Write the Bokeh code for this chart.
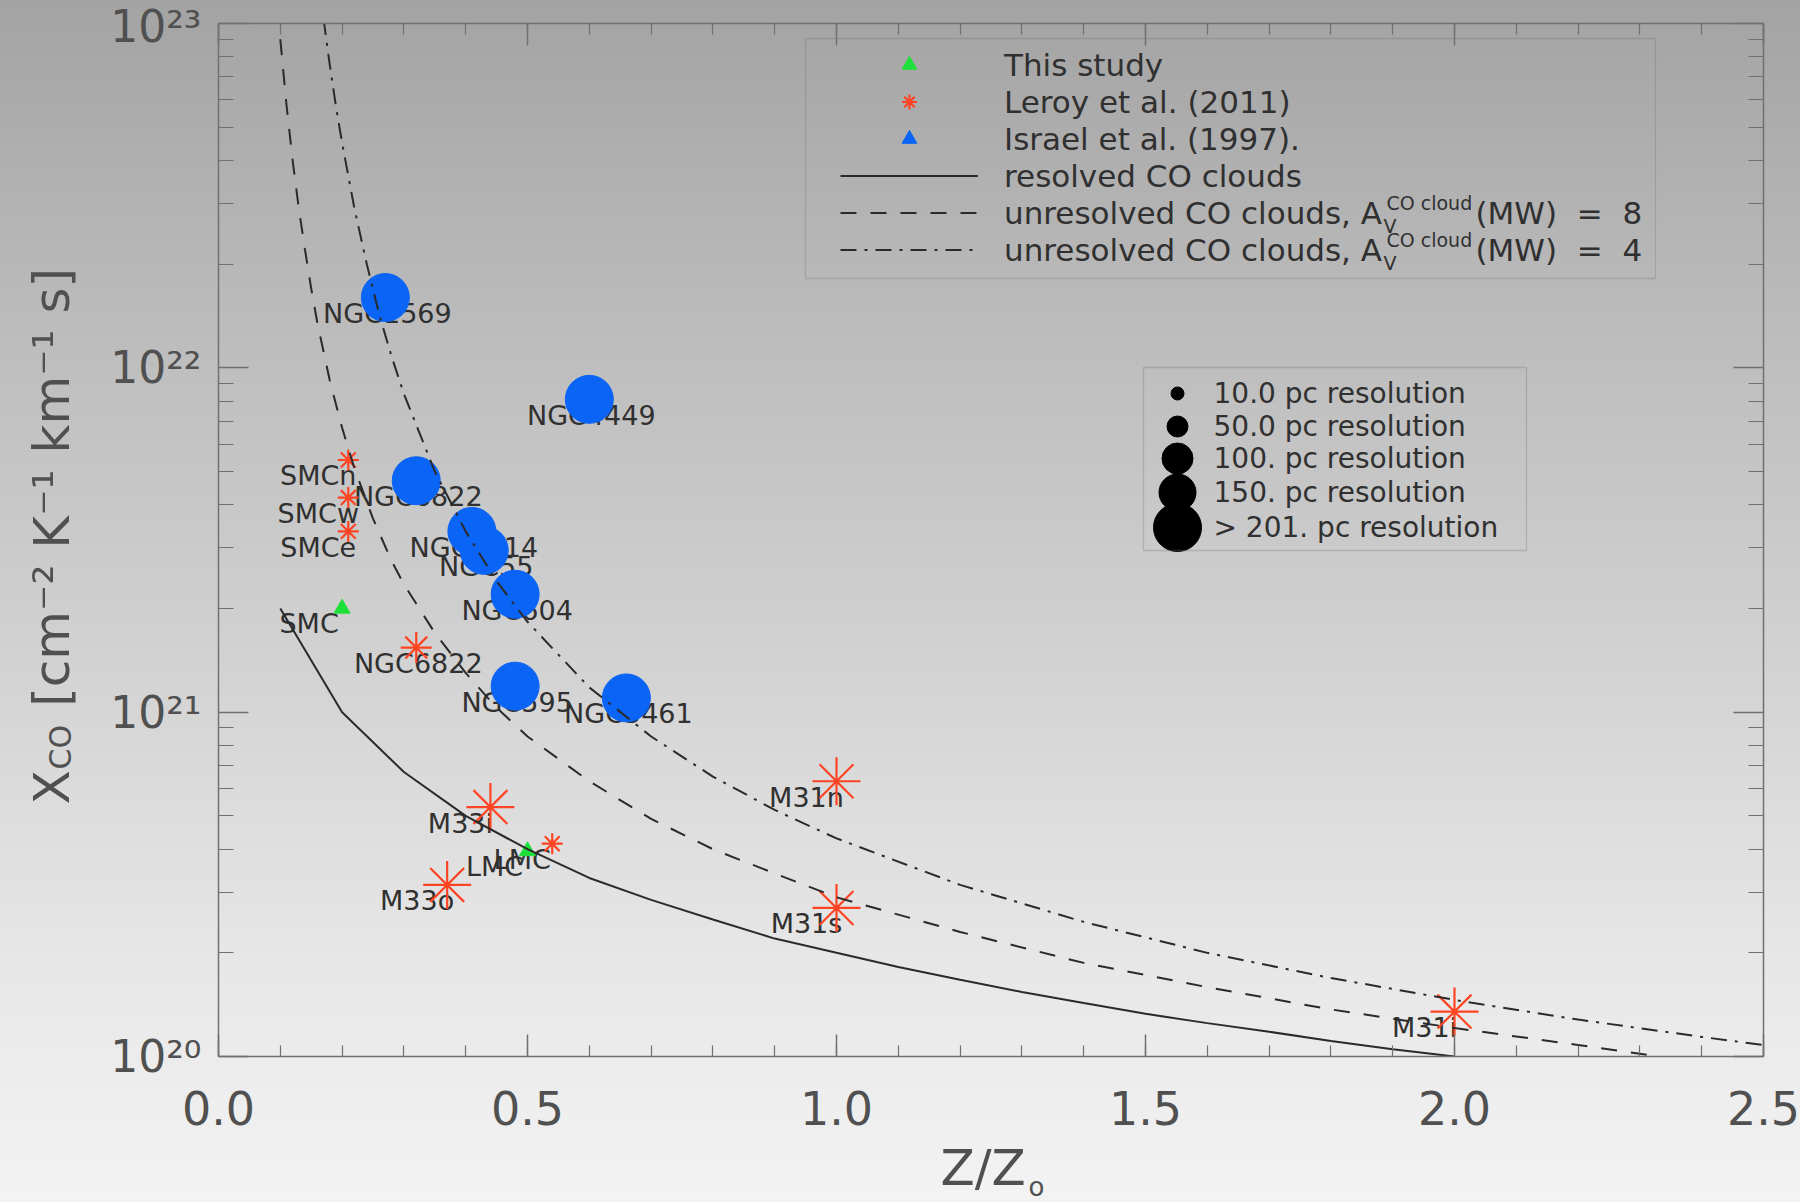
import math
from bokeh.plotting import figure
from bokeh.models import (ColumnDataSource, LabelSet, Label, Legend, LegendItem, LinearAxis, LogAxis,
                          FixedTicker, BoxAnnotation, Range1d, PrintfTickFormatter,
                          CustomJSTickFormatter, GlobalInlineStyleSheet)
from bokeh.core.properties import value
from bokeh.embed import file_html
from bokeh.resources import INLINE

# ---------------------------------------------------------------- data
study_names = ["SMC", "LMC"]
study_z = [0.20, 0.50]
study_xco = [2.0e21, 3.95e20]

leroy_names = ["SMCn", "SMCw", "SMCe", "NGC6822", "M33i", "M33o", "LMC", "M31n", "M31s", "M31i"]
leroy_z = [0.21, 0.21, 0.21, 0.32, 0.44, 0.37, 0.54, 1.00, 1.00, 2.00]
leroy_xco = [5.4e21, 4.2e21, 3.35e21, 1.54e21, 5.3e20, 3.15e20, 4.15e20, 6.3e20, 2.7e20, 1.35e20]
leroy_res_pc = [50, 50, 50, 100, 201, 201, 50, 201, 201, 201]

israel_names = ["NGC1569", "NGC4449", "NGC6822", "NGC4214", "NGC55", "NGC604", "NGC595", "NGC5461"]
israel_z = [0.27, 0.60, 0.32, 0.41, 0.43, 0.48, 0.48, 0.66]
israel_xco = [1.6e22, 8.1e21, 4.7e21, 3.35e21, 2.95e21, 2.2e21, 1.19e21, 1.1e21]
israel_res_pc = [201, 201, 201, 201, 201, 201, 201, 201]

resolved_z = [0.1, 0.2, 0.3, 0.4, 0.5, 0.6, 0.7, 0.8, 0.9, 1.0,
              1.1, 1.2, 1.3, 1.4, 1.5, 1.6, 1.7, 1.8, 1.9, 2.0]
resolved_xco = [2.0e21, 1.0e21, 6.7e20, 5.0e20, 4.0e20, 3.3e20, 2.85e20, 2.5e20, 2.2e20, 2.0e20,
                1.82e20, 1.67e20, 1.54e20, 1.43e20, 1.33e20, 1.25e20, 1.18e20, 1.11e20, 1.05e20, 1.0e20]

av8_z = [0.10, 0.11, 0.12, 0.13, 0.14, 0.15, 0.16, 0.18, 0.20, 0.22, 0.25, 0.28, 0.30, 0.35,
         0.40, 0.45, 0.50, 0.60, 0.70, 0.80, 0.90, 1.00, 1.20, 1.40, 1.60, 1.80, 2.00, 2.20, 2.33]
av8_xco = [9.0e22, 5.8e22, 4.0e22, 2.9e22, 2.2e22, 1.7e22, 1.35e22, 9.2e21, 6.7e21, 5.1e21,
           3.65e21, 2.75e21, 2.35e21, 1.7e21, 1.3e21, 1.03e21, 8.5e20, 6.3e20, 4.9e20, 4.0e20,
           3.4e20, 2.9e20, 2.3e20, 1.87e20, 1.59e20, 1.37e20, 1.21e20, 1.08e20, 1.0e20]

av4_z = [0.17, 0.18, 0.19, 0.20, 0.22, 0.24, 0.26, 0.28, 0.30, 0.35, 0.40, 0.45, 0.50,
         0.60, 0.70, 0.80, 0.90, 1.00, 1.20, 1.40, 1.60, 1.80, 2.00, 2.20, 2.40, 2.50]
av4_xco = [1.03e23, 7.6e22, 5.75e22, 4.5e22, 2.9e22, 2.0e22, 1.43e22, 1.08e22, 8.4e21, 5.0e21,
           3.35e21, 2.4e21, 1.83e21, 1.18e21, 8.5e20, 6.5e20, 5.2e20, 4.3e20, 3.15e20, 2.46e20,
           2.0e20, 1.69e20, 1.46e20, 1.28e20, 1.14e20, 1.08e20]
av_mw_values = [8, 4]

xtick_values = [0.0, 0.5, 1.0, 1.5, 2.0, 2.5]
ytick_values = [1e20, 1e21, 1e22, 1e23]
ytick_labels = ["10\u00b2\u2070", "10\u00b2\u00b9", "10\u00b2\u00b2", "10\u00b2\u00b3"]

res_key_pc = [10, 50, 100, 150, 201]
res_key_labels = ["10.0 pc resolution", "50.0 pc resolution", "100. pc resolution",
                  "150. pc resolution", "> 201. pc resolution"]

legend_labels = ["This study", "Leroy et al. (2011)", "Israel et al. (1997).",
                 "resolved CO clouds", "unresolved CO clouds, A", "unresolved CO clouds, A"]

x_title = "Z/Z"
x_title_sub = "o"
y_title = "X"
y_title_sub = "CO"
y_title_units = "[cm\u207b\u00b2 K\u207b\u00b9 km\u207b\u00b9 s]"

# ---------------------------------------------------------------- style
FONT = "DejaVu Sans"
TEXT = "#303030"
TICK_TEXT = "#505050"
AXIS = "#707070"
GREEN = "#1fe03a"
RED = "#ff4424"
BLUE = "#0a64f5"
LINE = "#2a2a2a"
RES_SIZE = {10: 13, 50: 21, 100: 31, 150: 37, 201: 48}

W, H = 1800, 1202
FL, FT, FR, FB = 218, 23, 1763, 1056      # frame edges on the page
BL, BT, BR, BB = FL, FT, W - FR, H - FB
FW, FH = FR - FL, FB - FT
X0, X1, Y0, Y1 = 0.0, 2.5, 1e20, 1e23


def dx(px):
    return X0 + (px - FL) / FW * (X1 - X0)


def dy(py):
    ly0, ly1 = math.log10(Y0), math.log10(Y1)
    return 10 ** (ly1 - (py - FT) / FH * (ly1 - ly0))


p = figure(width=W, height=H, x_range=Range1d(X0, X1), y_range=Range1d(Y0, Y1),
           y_axis_type="log", output_backend="svg", toolbar_location=None, tools="",
           min_border_left=BL, min_border_right=BR, min_border_top=BT, min_border_bottom=BB)
p.border_fill_color = None
p.background_fill_color = None
p.outline_line_color = None
p.xgrid.visible = False
p.ygrid.visible = False

p.stylesheets = [GlobalInlineStyleSheet(css=(
    "html{height:100%;overflow:hidden;background:linear-gradient(to bottom,#a3a3a3 0%,#bababa 25%,"
    "#d2d2d2 55%,#e7e7e7 80%,#f3f3f3 100%);} body{background:transparent;}"))]

xt = FixedTicker(ticks=xtick_values, minor_ticks=[i * 0.1 for i in range(26)])
yt = FixedTicker(ticks=ytick_values,
                 minor_ticks=[k * 10.0 ** e for e in (20, 21, 22) for k in range(2, 10)])
blank = CustomJSTickFormatter(code="return ''")
ylab = CustomJSTickFormatter(args=dict(vals=ytick_values, labs=ytick_labels), code="""
    for (let i = 0; i < vals.length; i++) {
        if (Math.abs(Math.log10(vals[i]) - Math.log10(tick)) < 1e-6) return labs[i];
    }
    return '';
""")


def style_axis(ax, t_in, m_in):
    ax.axis_line_color = AXIS
    ax.axis_line_width = 1.5
    ax.major_tick_line_color = AXIS
    ax.major_tick_line_width = 1.5
    ax.minor_tick_line_color = AXIS
    ax.minor_tick_line_width = 1.2
    ax.major_tick_in = t_in
    ax.major_tick_out = 0
    ax.minor_tick_in = m_in
    ax.minor_tick_out = 0


xb = p.below[0]
xb.ticker = xt
xb.formatter = PrintfTickFormatter(format="%.1f")
xb.major_label_text_font = FONT
xb.major_label_text_font_size = "46px"
xb.major_label_text_color = TICK_TEXT
xb.major_label_standoff = 34
xb.axis_label = x_title + "\u00a0"
xb.axis_label_text_font = FONT
xb.axis_label_text_font_size = "50px"
xb.axis_label_text_font_style = "normal"
xb.axis_label_text_color = TICK_TEXT
xb.axis_label_standoff = 11
style_axis(xb, 22, 11)

xa = LinearAxis(ticker=xt, formatter=blank, major_label_standoff=0)
style_axis(xa, 22, 11)
p.add_layout(xa, "above")

yl = p.left[0]
yl.ticker = yt
yl.formatter = ylab
yl.major_label_text_font = FONT
yl.major_label_text_font_size = "44px"
yl.major_label_text_color = TICK_TEXT
yl.major_label_standoff = 17
style_axis(yl, 30, 15)

yr = LogAxis(ticker=yt, formatter=blank, major_label_standoff=0)
style_axis(yr, 30, 15)
p.add_layout(yr, "right")

# ---------------------------------------------------------------- point labels
src_israel = ColumnDataSource(dict(z=israel_z, x=israel_xco, name=israel_names,
                                   size=[RES_SIZE[r] for r in israel_res_pc]))
src_leroy = ColumnDataSource(dict(z=leroy_z, x=leroy_xco, name=leroy_names,
                                  size=[RES_SIZE[r] for r in leroy_res_pc],
                                  ldx=[2 if n == "NGC6822" else -30 for n in leroy_names]))
src_study = ColumnDataSource(dict(z=study_z, x=study_xco, name=study_names))

txt = dict(text_font=value(FONT), text_font_size="27px", text_color=TEXT,
           text_align="center", text_baseline="middle")
p.text(x="z", y="x", text="name", source=src_israel, x_offset=2, y_offset=16, **txt)
p.text(x="z", y="x", text="name", source=src_leroy, x_offset="ldx", y_offset=16, **txt)
p.text(x="z", y="x", text="name", source=src_study, x_offset=-33, y_offset=15, **txt)

# ---------------------------------------------------------------- markers
r_israel = p.scatter(x="z", y="x", size="size", source=src_israel, marker="circle",
                     fill_color=BLUE, line_color=BLUE)
r_leroy = p.scatter(x="z", y="x", size="size", source=src_leroy, marker="asterisk",
                    line_color=RED, line_width=2.2)
r_study = p.scatter(x="z", y="x", size=16, source=src_study, marker="triangle",
                    fill_color=GREEN, line_color=GREEN)

# ---------------------------------------------------------------- model curves
r_res = p.line(resolved_z, resolved_xco, line_color=LINE, line_width=2)
r_av8 = p.line(av8_z, av8_xco, line_color=LINE, line_width=2, line_dash="16 14")
r_av4 = p.line(av4_z, av4_xco, line_color=LINE, line_width=2, line_dash="16 8 3 8")

# legend-only proxy (the key shows a blue triangle for Israel et al.)
r_blue_tri = p.scatter(x=[float("nan")], y=[float("nan")], marker="triangle",
                       fill_color=BLUE, line_color=BLUE)

# ---------------------------------------------------------------- legend 1
ROW0, PITCH, PAD = 64.5, 37, 35
leg_top = ROW0 - PAD - PITCH / 2
leg_bottom = leg_top + 2 * PAD + 6 * PITCH
legend = Legend(items=[
    LegendItem(label=legend_labels[0], renderers=[r_study]),
    LegendItem(label=legend_labels[1], renderers=[r_leroy]),
    LegendItem(label=legend_labels[2], renderers=[r_blue_tri]),
    LegendItem(label=legend_labels[3], renderers=[r_res]),
    LegendItem(label=legend_labels[4], renderers=[r_av8]),
    LegendItem(label=legend_labels[5], renderers=[r_av4]),
], location=(805 - FL, round(FB - leg_bottom)), padding=PAD, spacing=0, margin=0,
    glyph_width=138, glyph_height=PITCH, label_height=PITCH, label_standoff=26,
    label_text_font=FONT, label_text_font_size="31px", label_text_color=TEXT,
    background_fill_alpha=0, border_line_alpha=0)
p.add_layout(legend)

p.add_layout(BoxAnnotation(left=dx(805), right=dx(1655), top=dy(38), bottom=dy(278),
                           fill_alpha=0, line_color=AXIS, line_width=1.3))

a_end = 1004 + 379   # where "..., A" ends
for i, av in zip((4, 5), av_mw_values):
    row_y = ROW0 + i * PITCH
    p.add_layout(Label(x=dx(a_end + 3), y=dy(row_y - 10), text="CO cloud", text_font=FONT,
                       text_font_size="19px", text_color=TEXT, text_baseline="middle"))
    p.add_layout(Label(x=dx(a_end), y=dy(row_y + 13), text="V", text_font=FONT,
                       text_font_size="19px", text_color=TEXT, text_baseline="middle"))
    p.add_layout(Label(x=dx(a_end + 92), y=dy(row_y),
                       text="(MW)\u00a0 =\u00a0 %d" % av, text_font=FONT,
                       text_font_size="31px", text_color=TEXT, text_baseline="middle"))

# ---------------------------------------------------------------- legend 2 (resolution key)
key_rows = [393, 426, 458, 492, 527]
src_key = ColumnDataSource(dict(x=[dx(1177)] * len(res_key_pc), tx=[dx(1213)] * len(res_key_pc),
                                y=[dy(r) for r in key_rows],
                                size=[RES_SIZE[r] for r in res_key_pc], label=res_key_labels))
p.scatter(x="x", y="y", size="size", source=src_key, marker="circle",
          fill_color="black", line_color="black")
p.add_layout(LabelSet(x="tx", y="y", text="label", source=src_key, text_font=value(FONT),
                      text_font_size="28px", text_color=TEXT, text_baseline="middle"))
p.add_layout(BoxAnnotation(left=dx(1143), right=dx(1526), top=dy(367), bottom=dy(550),
                           fill_alpha=0, line_color=AXIS, line_width=1.3))

# ---------------------------------------------------------------- axis-title pieces (side panels)
p.add_layout(Label(x=dx(51), y=dy(804), text=y_title + "\u00a0" * 4 + y_title_units,
                   angle=math.pi / 2, text_font=FONT, text_font_size="50px",
                   text_color=TICK_TEXT, text_align="left", text_baseline="middle"), "left")
p.add_layout(Label(x=dx(60), y=dy(769), text=y_title_sub, angle=math.pi / 2, text_font=FONT,
                   text_font_size="30px", text_color=TICK_TEXT, text_align="left",
                   text_baseline="middle"), "left")
p.add_layout(Label(x=dx(1028), y=dy(1186), text=x_title_sub, text_font=FONT,
                   text_font_size="26px", text_color=TICK_TEXT, text_align="left",
                   text_baseline="middle"), "right")

open("out.html", "w").write(file_html(p, INLINE))
